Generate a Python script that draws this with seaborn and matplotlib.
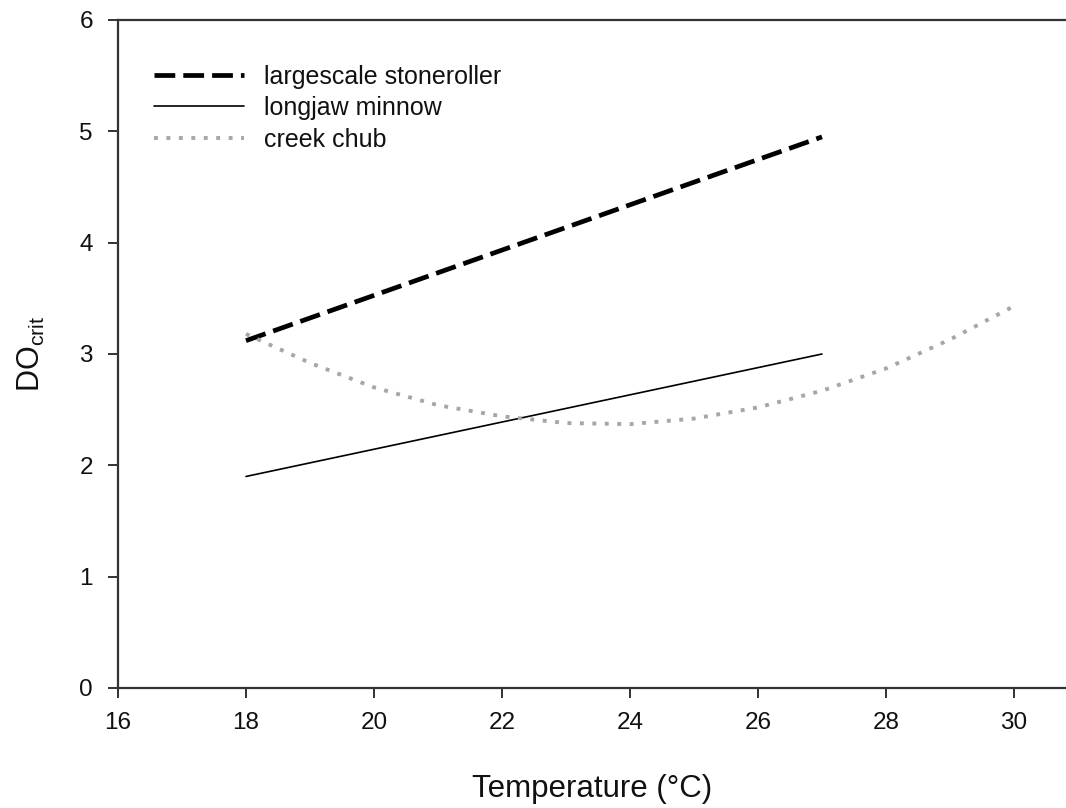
import matplotlib
matplotlib.use("Agg")
import matplotlib.pyplot as plt
import seaborn as sns
import pandas as pd

# Data
stone_temp = [18, 27]
stone_do = [3.12, 4.95]
longjaw_temp = [18, 27]
longjaw_do = [1.90, 3.00]
creek_temp = [18, 19, 20, 21, 22, 23, 24, 25, 26, 27, 28, 29, 30]
creek_do = [3.18, 2.92, 2.70, 2.54, 2.44, 2.38, 2.37, 2.42, 2.52, 2.67, 2.87, 3.13, 3.43]
series_names = ["largescale stoneroller", "longjaw minnow", "creek chub"]
x_ticks = [16, 18, 20, 22, 24, 26, 28, 30]
y_ticks = [0, 1, 2, 3, 4, 5, 6]

sns.set_theme(style="ticks")
plt.rcParams["font.family"] = ["Liberation Sans", "DejaVu Sans"]
plt.rcParams["mathtext.fontset"] = "custom"
plt.rcParams["mathtext.rm"] = "Liberation Sans"
plt.rcParams["mathtext.it"] = "Liberation Sans"

fig = plt.figure(figsize=(10.66, 8.08), dpi=100)
ax = fig.add_axes([118 / 1066, 120 / 808, (1066 - 118) / 1066, 668 / 808])

df_s = pd.DataFrame({"T": stone_temp, "DO": stone_do})
df_l = pd.DataFrame({"T": longjaw_temp, "DO": longjaw_do})
df_c = pd.DataFrame({"T": creek_temp, "DO": creek_do})

sns.lineplot(data=df_s, x="T", y="DO", ax=ax, color="black", lw=3.4,
             linestyle=(0, (4.4, 1.7)), label=series_names[0])
sns.lineplot(data=df_l, x="T", y="DO", ax=ax, color="black", lw=1.2,
             label=series_names[1])
sns.lineplot(data=df_c, x="T", y="DO", ax=ax, color="#a6a6a6", lw=2.8,
             linestyle=(0, (1, 2.2)), label=series_names[2])

ax.set_xlim(16, 16 + 948 / 64)
ax.set_ylim(0, 6)
ax.set_xticks(x_ticks)
ax.set_yticks(y_ticks)
ax.tick_params(direction="out", length=7, width=1.4, labelsize=17.5,
               color="#333333", labelcolor="#111111")
ax.tick_params(axis="x", pad=10)
ax.tick_params(axis="y", pad=11)
for side in ["left", "bottom", "top"]:
    ax.spines[side].set_linewidth(1.6)
    ax.spines[side].set_color("#333333")
ax.spines["right"].set_visible(False)

ax.set_xlabel("Temperature (°C)", fontsize=22.5, labelpad=29, color="#111111")
ax.set_ylabel(r"DO$_{\mathrm{crit}}$", fontsize=22, labelpad=23, color="#111111")

leg = ax.legend(loc="upper left", frameon=False, fontsize=18,
                handlelength=3.6, handletextpad=0.8, labelspacing=0.3,
                bbox_to_anchor=(0.027, 0.948), borderaxespad=0)
for t in leg.get_texts():
    t.set_color("#111111")

fig.savefig("out.png", dpi=100)
